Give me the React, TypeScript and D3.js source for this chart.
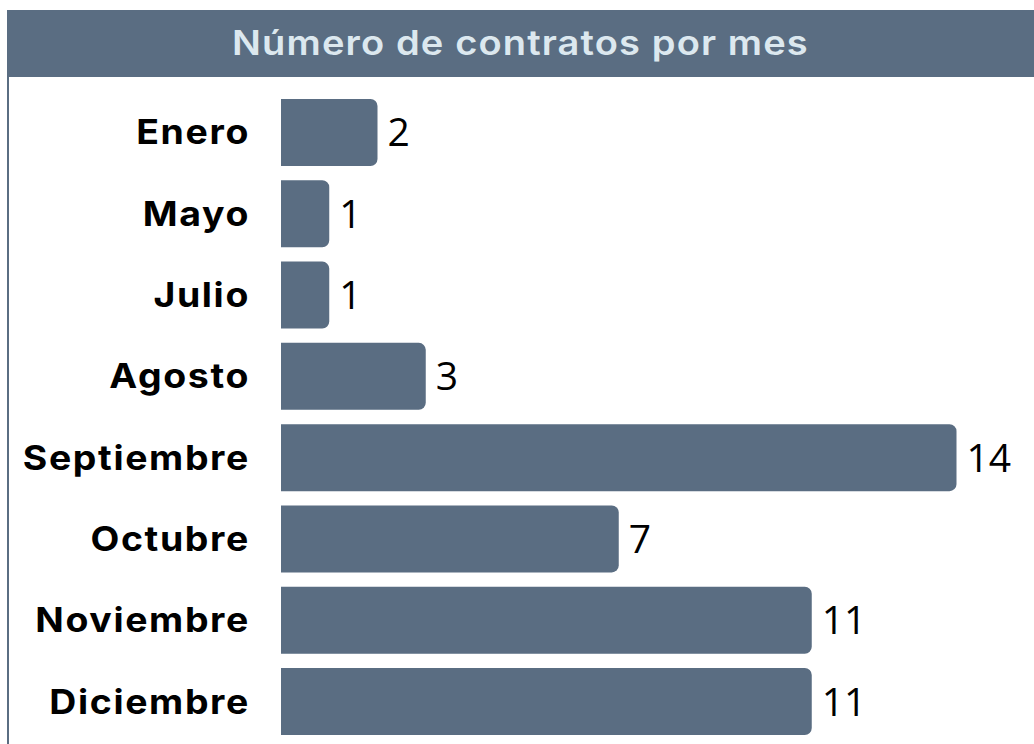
import React from "react";
import * as d3 from "d3";

const categories = ["Enero", "Mayo", "Julio", "Agosto", "Septiembre", "Octubre", "Noviembre", "Diciembre"];
const values = [2, 1, 1, 3, 14, 7, 11, 11];
const title = "Número de contratos por mes";

const W = 1034;
const H = 744;
const COLOR = "#5a6d82";

function rightRounded(x0: number, y0: number, w: number, h: number, r: number) {
  const rr = Math.min(r, w / 2, h / 2);
  const p = d3.path();
  p.moveTo(x0, y0);
  p.lineTo(x0 + w - rr, y0);
  p.arcTo(x0 + w, y0, x0 + w, y0 + rr, rr);
  p.lineTo(x0 + w, y0 + h - rr);
  p.arcTo(x0 + w, y0 + h, x0 + w - rr, y0 + h, rr);
  p.lineTo(x0, y0 + h);
  p.closePath();
  return p.toString();
}

export default function App() {
  const x = d3.scaleLinear().domain([0, 14]).range([281, 956.5]);
  const y = d3.scaleBand<string>().domain(categories).range([99, 735]).paddingInner(0.176).paddingOuter(0);
  const bw = y.bandwidth();
  return (
    <svg width={W} height={H} style={{ position: "absolute", left: 0, top: 0, display: "block" }}>
      <rect x={0} y={0} width={W} height={H} fill="#ffffff" />
      <rect x={7} y={10} width={W - 7} height={67} fill={COLOR} />
      <rect x={7} y={77} width={2} height={H - 77} fill={COLOR} />
      <g transform={`translate(${(7 + W) / 2},55) scale(1.12,1)`}>
        <text
          x={0}
          y={0}
          textAnchor="middle"
          fill="#dce8ef"
          fontFamily="Inter, 'Noto Sans', sans-serif"
          fontWeight={600}
          fontSize={34}
          letterSpacing={1}
        >
          {title}
        </text>
      </g>
      {categories.map((c, i) => {
        const y0 = y(c)!;
        const cy = y0 + bw / 2;
        return (
          <g key={c}>
            <path d={rightRounded(x(0), y0, x(values[i]) - x(0), bw, 7)} fill={COLOR} />
            <g transform={`translate(250,${cy + 12}) scale(1.1,1)`}>
              <text
                x={0}
                y={0}
                textAnchor="end"
                fill="#000"
                fontFamily="Inter, 'Noto Sans', sans-serif"
                fontWeight={700}
                fontSize={34}
                letterSpacing={1.5}
              >
                {c}
              </text>
            </g>
            <text
              x={x(values[i]) + 10}
              y={cy + 14}
              textAnchor="start"
              fill="#000"
              fontFamily="'Open Sans', 'Noto Sans', sans-serif"
              fontSize={39}
            >
              {values[i]}
            </text>
          </g>
        );
      })}
    </svg>
  );
}
